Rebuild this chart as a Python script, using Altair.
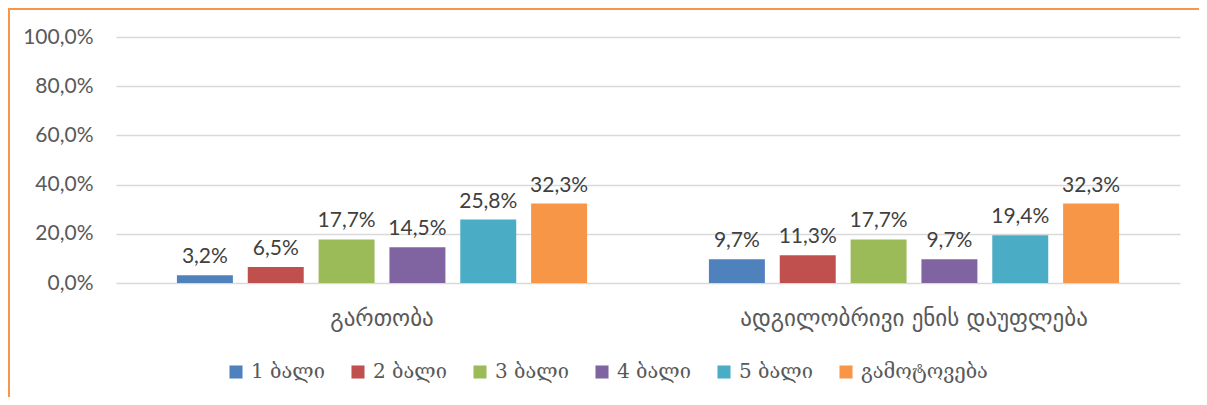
import altair as alt
import pandas as pd

categories = ["გართობა", "ადგილობრივი ენის დაუფლება"]
series = ["1 ბალი", "2 ბალი", "3 ბალი", "4 ბალი", "5 ბალი", "გამოტოვება"]
values_gartoba = [3.2, 6.5, 17.7, 14.5, 25.8, 32.3]
values_ena = [9.7, 11.3, 17.7, 9.7, 19.4, 32.3]
colors = ["#4F81BD", "#C0504D", "#9BBB59", "#8064A2", "#4BACC6", "#F79646"]
y_ticks = [0, 0.2, 0.4, 0.6, 0.8, 1.0]

rows = []
for cat, vals in zip(categories, [values_gartoba, values_ena]):
    for s, v in zip(series, vals):
        rows.append({"category": cat, "series": s, "value": v / 100})
df = pd.DataFrame(rows)

W, H = 1064, 246
PL, PT, PR, PB = 108, 29, 19, 114

base = alt.Chart(df).encode(
    x=alt.X("category:N", sort=categories,
            scale=alt.Scale(paddingInner=0, paddingOuter=0),
            axis=alt.Axis(title=None, labelAngle=0, ticks=False, domain=False,
                          labelPadding=24, labelFontSize=23, labelColor="#595959",
                          labelFont="DejaVu Sans", labelLimit=600)),
    xOffset=alt.XOffset("series:N", sort=series,
                        scale=alt.Scale(paddingInner=0.21, paddingOuter=0.86)),
)

bars = base.mark_bar().encode(
    y=alt.Y("value:Q", scale=alt.Scale(domain=[0, 1]),
            axis=alt.Axis(title=None, values=y_ticks, ticks=False, domain=False,
                          labelExpr="replace(format(datum.value, '.1%'), '.', ',')",
                          gridColor="#D9D9D9", gridWidth=1.5, labelPadding=23,
                          labelFontSize=21, labelColor="#595959", labelFont="Lato")),
    color=alt.Color("series:N", sort=series,
                    scale=alt.Scale(domain=series, range=colors),
                    legend=alt.Legend(title=None, orient="none", legendX=110, legendY=325,
                                      direction="horizontal", symbolType="square",
                                      symbolSize=170, symbolStrokeWidth=0,
                                      labelFontSize=20, labelFont="DejaVu Serif",
                                      labelColor="#595959", labelOffset=5,
                                      columnPadding=23, labelLimit=300)),
)

text = base.transform_calculate(
    label="replace(format(datum.value, '.1%'), '.', ',')"
).mark_text(dy=-8, baseline="bottom", fontSize=21, color="#404040", font="Lato").encode(
    y=alt.Y("value:Q"), text="label:N"
)

frame_df = pd.DataFrame({"k": [0]})
top_line = alt.Chart(frame_df).mark_rule(color="#F79646", strokeWidth=2, clip=False).encode(
    x=alt.value(-PL), x2=alt.value(W + PR), y=alt.value(-PT + 1))
left_line = alt.Chart(frame_df).mark_rule(color="#F79646", strokeWidth=2, clip=False).encode(
    x=alt.value(-PL + 1), y=alt.value(-PT), y2=alt.value(H + PB))

chart = alt.layer(bars, text, top_line, left_line).properties(
    width=W, height=H,
    autosize=alt.AutoSizeParams(type="none"),
    padding={"left": PL, "top": PT, "right": PR, "bottom": PB},
).configure_view(stroke=None)

chart.save("out.html", embed_options={"renderer": "svg", "actions": False})
